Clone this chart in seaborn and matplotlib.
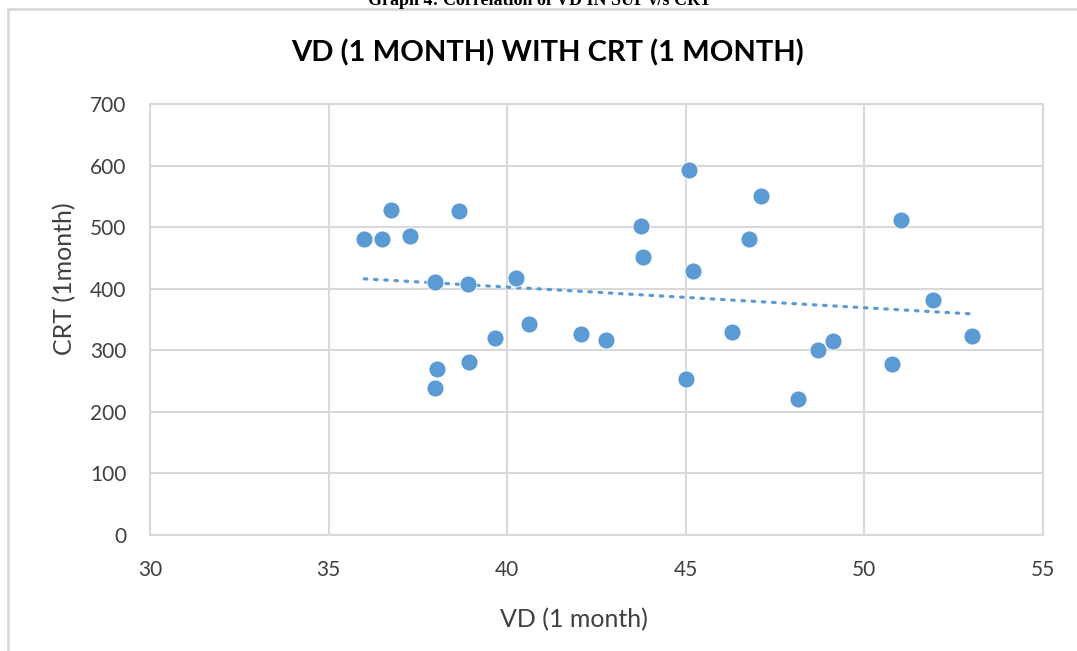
import numpy as np
import pandas as pd
import seaborn as sns
from matplotlib import pyplot as plt
from matplotlib.lines import Line2D

# values
vd_1month = [36.0, 36.5, 36.74, 37.27, 37.98, 37.99, 38.04, 38.64, 38.9, 38.92,
             39.67, 40.24, 40.61, 42.07, 42.76, 43.75, 43.79, 45.0, 45.09, 45.2,
             46.3, 46.76, 47.1, 48.14, 48.71, 49.13, 50.77, 51.03, 51.92, 53.02]
crt_1month = [481, 481, 528, 485, 411, 238, 270, 526, 408, 281,
              320, 417, 343, 326, 317, 502, 451, 253, 593, 429,
              330, 481, 550, 221, 300, 315, 277, 511, 382, 324]

df = pd.DataFrame({'VD': vd_1month, 'CRT': crt_1month})

sns.set_style('white')
plt.rcParams['font.family'] = ['Lato', 'DejaVu Sans']

blue = '#5B9BD5'
grid_col = '#D9D9D9'
text_col = '#404040'

fig = plt.figure(figsize=(10.77, 6.51), dpi=100)
ax = fig.add_axes([150 / 1077, 1 - 535 / 651, 893 / 1077, 431 / 651])

sns.scatterplot(data=df, x='VD', y='CRT', ax=ax, color=blue, s=150,
                edgecolor='white', linewidth=0.6, zorder=3)
# linear trendline, dotted like excel
sns.regplot(data=df, x='VD', y='CRT', ax=ax, scatter=False, ci=None, truncate=True,
            line_kws=dict(color=blue, linestyle=(0, (0.8, 2.4)), linewidth=2.3,
                          dash_capstyle='round'))

ax.set_xlim(30, 55)
ax.set_ylim(0, 700)
ax.set_xticks(range(30, 56, 5))
ax.set_yticks(range(0, 701, 100))
ax.grid(True, color=grid_col, linewidth=1.5)
ax.set_axisbelow(True)
for s in ax.spines.values():
    s.set_color(grid_col)
    s.set_linewidth(1.5)
ax.tick_params(length=0, labelsize=15, colors=text_col)
ax.tick_params(axis='x', pad=18)
ax.tick_params(axis='y', pad=17)

ax.set_xlabel('VD (1 month)', fontsize=18, color=text_col)
ax.set_ylabel('CRT (1month)', fontsize=18, color=text_col)
ax.xaxis.label.set_va('center')
ax.yaxis.label.set_va('center')
ax.xaxis.set_label_coords(0.475, -0.197)
ax.yaxis.set_label_coords(-0.096, 0.594)

fig.text(548 / 1077, 1 - 53 / 651, 'VD (1 MONTH) WITH CRT (1 MONTH)',
         ha='center', va='center', fontsize=21, fontweight='bold', color='black')

# caption of the document, cut off at the top like in the source
fig.text(540 / 1077, 1 - 5 / 651, 'Graph 4: Correlation of VD IN SUP v/s CRT',
         ha='center', va='baseline', fontsize=13, fontweight='bold',
         family=['Liberation Serif'], color='black')

# chart frame
fig.add_artist(Line2D([8 / 1077, 8 / 1077], [0, 1 - 9 / 651], transform=fig.transFigure,
                      color=grid_col, linewidth=2))
fig.add_artist(Line2D([8 / 1077, 1], [1 - 9 / 651, 1 - 9 / 651], transform=fig.transFigure,
                      color=grid_col, linewidth=2))

plt.savefig('out.png', dpi=100)
